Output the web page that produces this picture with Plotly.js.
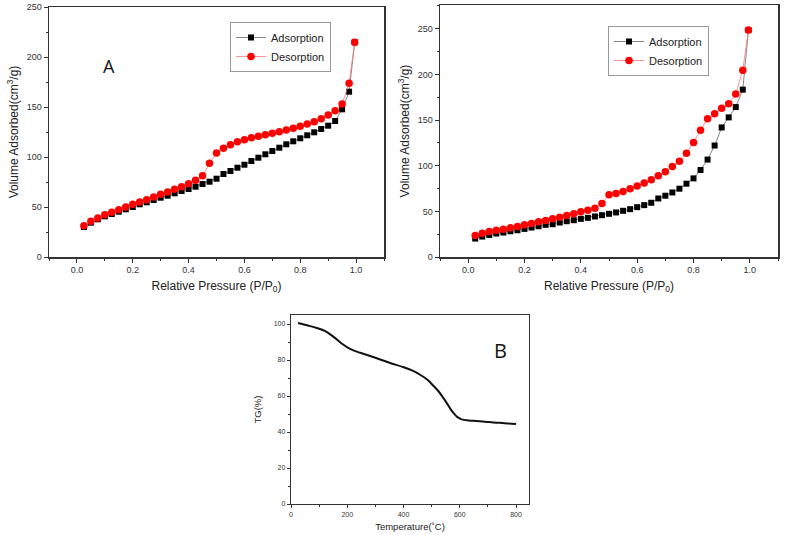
<!DOCTYPE html>
<html>
<head>
<meta charset="utf-8">
<script src="https://cdn.plot.ly/plotly-3.0.1.min.js"></script>
<style>html,body{margin:0;padding:0;background:#fff;}#chart{width:787px;height:535px;}</style>
</head>
<body>
<div id="chart"></div>
<script>
// ---- Data ----
const pressure = [0.025,0.05,0.075,0.1,0.125,0.15,0.175,0.2,0.225,0.25,0.275,0.3,0.325,0.35,0.375,0.4,0.425,0.45,0.475,0.5,0.525,0.55,0.575,0.6,0.625,0.65,0.675,0.7,0.725,0.75,0.775,0.8,0.825,0.85,0.875,0.9,0.925,0.95,0.975,0.995];

const adsA = [30,34.3,37.7,40.7,43,45.3,47.7,50,52.7,54.7,57,59.3,61.3,63.7,66,68,70.3,73,75.3,78.3,83,86,89.3,92.3,96,99.3,102.7,106,109.3,112.7,115.7,118.7,121.7,124.7,128,131.3,136,147.7,165.3,214.7];
const desA = [31.3,35.7,39,42.3,44.7,47.3,50,52.7,55,57.3,60,62.7,65,67.7,70.3,73.3,76.7,81.3,93.7,104,108.7,112.3,115.3,117.3,119.3,120.7,122.3,123.7,125.3,127,128.7,130.7,133,135.3,138.3,142,146.3,153,173.7,214.7];

const adsB = [20.2,22.4,24.2,25.7,26.8,28.2,29.3,30.8,32.3,33.7,35.2,35.9,37.8,39.2,40.3,41.8,42.9,44.4,45.8,47.3,48.8,50.6,52.4,54.6,56.8,59.4,64.1,67.1,70.7,74.8,80.3,86.1,95.3,106.7,122.1,141.9,152.9,164.2,183.3,248.5];
const desB = [23.5,26,27.9,29.3,30.4,31.9,33.4,35.2,36.7,38.5,40,41.8,43.6,45.5,47.3,49.5,51.3,53.5,58.7,68.2,69.6,71.8,74.8,77.7,81,84.7,89.1,93.5,99,104.8,113.6,125.4,138.9,151.4,156.9,162.8,167.9,178.5,204.5,248.5];

const temperature = [25,60,92,120,150,180,210,246,305,350,400,430,459,485,506,525,542,556,566,578,589,600,607,625,648,690,720,760,800];
const tg = [100.6,99.2,97.8,96.2,93,89.2,86.2,84,81,78.5,76,74.2,71.8,69,65.7,62.5,58.8,55.5,53,50.5,48.6,47.5,47,46.5,46.2,45.7,45.3,44.9,44.4];

const seriesNames = ['Adsorption','Desorption'];
const xTitle = 'Relative Pressure (P/P<sub>0</sub>)';
const yTitle = 'Volume Adsorbed(cm<sup>3</sup>/g)';

// ---- Traces ----
const adsStyle = {mode:'lines+markers', line:{color:'#666', width:0.8}, marker:{symbol:'square', size:6, color:'#000'}};
const desStyle = {mode:'lines+markers', line:{color:'#ff7777', width:0.8}, marker:{symbol:'circle', size:7.5, color:'#ff0000'}};

const traces = [
  Object.assign({x:pressure, y:adsA, name:seriesNames[0], xaxis:'x', yaxis:'y', legend:'legend'}, adsStyle),
  Object.assign({x:pressure, y:desA, name:seriesNames[1], xaxis:'x', yaxis:'y', legend:'legend'}, desStyle),
  Object.assign({x:pressure, y:adsB, name:seriesNames[0], xaxis:'x2', yaxis:'y2', legend:'legend2'}, adsStyle),
  Object.assign({x:pressure, y:desB, name:seriesNames[1], xaxis:'x2', yaxis:'y2', legend:'legend2'}, desStyle),
  {x:temperature, y:tg, mode:'lines', line:{color:'#111', width:2, shape:'spline', smoothing:1}, xaxis:'x3', yaxis:'y3', showlegend:false}
];

const W = 787, H = 535;
const dx = (a,b)=>[a/W, b/W];
const dy = (top,bot)=>[1-bot/H, 1-top/H];
const FONT = 'Liberation Sans, Arial, sans-serif';

function ax(opts){
  return Object.assign({
    showgrid:false, zeroline:false, showline:true, mirror:true,
    linecolor:'#333', linewidth:1.5,
    ticks:'outside', ticklen:4, tickwidth:1, tickcolor:'#333',
    tickfont:{family:FONT, size:9, color:'#333'},
    automargin:false
  }, opts);
}
const titleFont = {family:FONT, size:12, color:'#222'};
const smallTitle = {family:FONT, size:9.5, color:'#222'};
const smallTick = {family:FONT, size:7, color:'#333'};

const layout = {
  width:W, height:H,
  margin:{l:0,r:0,t:0,b:0},
  paper_bgcolor:'#fff', plot_bgcolor:'#fff',
  showlegend:true,
  xaxis: ax({domain:dx(49,384), anchor:'y', range:[-0.1,1.1], tick0:0, dtick:0.2, tickformat:'.1f',
             minor:{dtick:0.1, ticklen:2, ticks:'outside', tickcolor:'#333'},
             title:{text:xTitle, font:titleFont, standoff:7}}),
  yaxis: ax({domain:dy(7,257), anchor:'x', range:[0,250], dtick:50,
             minor:{dtick:25, ticklen:2, ticks:'outside', tickcolor:'#333'},
             title:{text:yTitle, font:titleFont, standoff:5}}),
  xaxis2: ax({domain:dx(440,778), anchor:'y2', range:[-0.1,1.1], tick0:0, dtick:0.2, tickformat:'.1f',
             minor:{dtick:0.1, ticklen:2, ticks:'outside', tickcolor:'#333'},
             title:{text:xTitle, font:titleFont, standoff:7}}),
  yaxis2: ax({domain:dy(5,257), anchor:'x2', range:[0,276], dtick:50,
             minor:{dtick:25, ticklen:2, ticks:'outside', tickcolor:'#333'},
             title:{text:yTitle, font:titleFont, standoff:5}}),
  xaxis3: ax({domain:dx(291,529), anchor:'y3', range:[0,846], dtick:200, linewidth:1.2, ticklen:3,
             tickfont:smallTick,
             minor:{dtick:100, ticklen:2, ticks:'outside', tickcolor:'#333'},
             title:{text:'Temperature(˚C)', font:smallTitle, standoff:6}}),
  yaxis3: ax({domain:dy(315,504), anchor:'x3', range:[0,105], dtick:20, linewidth:1.2, ticklen:3,
             tickfont:smallTick,
             minor:{dtick:10, ticklen:2, ticks:'outside', tickcolor:'#333'},
             title:{text:'TG(%)', font:smallTitle, standoff:10}}),
  legend: {x:230/W, y:1-22/H, xanchor:'left', yanchor:'top', bgcolor:'#fff', bordercolor:'#999', borderwidth:1,
           font:{family:FONT, size:11, color:'#222'}, tracegroupgap:0, itemwidth:30},
  legend2: {x:608/W, y:1-26/H, xanchor:'left', yanchor:'top', bgcolor:'#fff', bordercolor:'#999', borderwidth:1,
           font:{family:FONT, size:11, color:'#222'}, tracegroupgap:0, itemwidth:30},
  annotations:[
    {text:'A', x:101/W, y:1-52/H, xref:'paper', yref:'paper', showarrow:false, font:{family:'Open Sans, sans-serif', size:18, color:'#111'}},
    {text:'B', x:500/W, y:1-366/H, xref:'paper', yref:'paper', showarrow:false, font:{family:'Open Sans, sans-serif', size:20, color:'#111'}}
  ]
};

Plotly.newPlot('chart', traces, layout, {displayModeBar:false, staticPlot:true});
</script>
</body>
</html>
